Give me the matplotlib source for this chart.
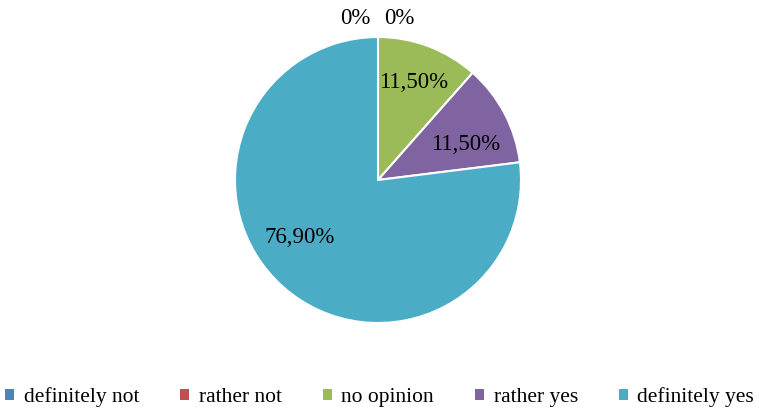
import matplotlib
matplotlib.use("Agg")
import matplotlib.pyplot as plt
from matplotlib.patches import Patch

categories = ["definitely not", "rather not", "no opinion", "rather yes", "definitely yes"]
values = [0.0, 0.0, 11.5, 11.5, 76.9]
labels = ["0%", "0%", "11,50%", "11,50%", "76,90%"]
colors = ["#4F81BD", "#C0504D", "#9BBB59", "#8064A2", "#4BACC6"]

plt.rcParams['font.family'] = ['Liberation Serif', 'DejaVu Serif']

W, H = 759, 413
fig = plt.figure(figsize=(W / 100, H / 100), dpi=100)
cx, cy, r = 378, 180, 143
ax = fig.add_axes([(cx - r) / W, (H - cy - r) / H, 2 * r / W, 2 * r / H])
wedges, _ = ax.pie(values, colors=colors, startangle=90, counterclock=False,
                   wedgeprops=dict(edgecolor="white", linewidth=1.5), radius=1.0)
ax.set_xlim(-1, 1)
ax.set_ylim(-1, 1)
ax.set_aspect("equal")
ax.axis("off")

label_pos = [(-0.16, 1.13), (0.15, 1.13), (0.25, 0.68), (0.61, 0.245), (-0.545, -0.405)]
for lab, (x, y) in zip(labels, label_pos):
    ax.text(x, y, lab, ha="center", va="center", fontsize=16.5, color="#000000")

handles = [Patch(facecolor=c, edgecolor="none") for c in colors]
fig.legend(handles, categories, loc="center", bbox_to_anchor=(0.5, 1 - 397 / H), ncol=5,
           frameon=False, fontsize=15.5, handlelength=0.42, handleheight=0.42,
           handletextpad=0.45, columnspacing=1.9, borderpad=0.1)

fig.savefig("out.png", dpi=100)
